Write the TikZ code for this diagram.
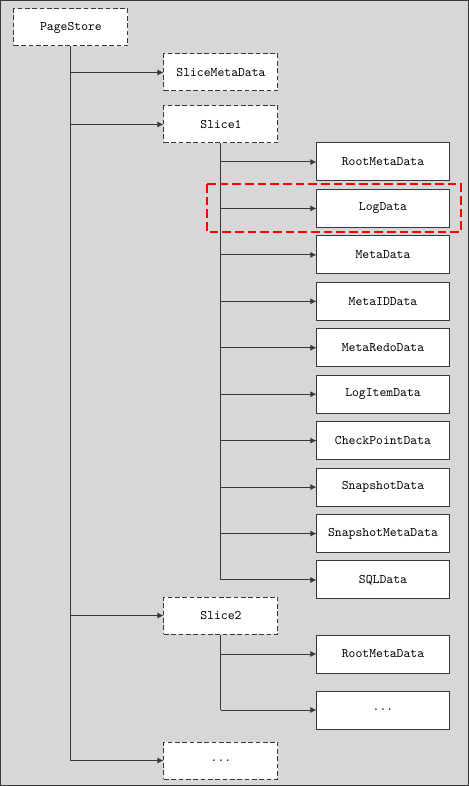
\documentclass[tikz,border=0pt]{standalone}
\usepackage{fontspec}
\usetikzlibrary{positioning, arrows.meta}

\begin{document}
\begin{tikzpicture}[x=0.75pt, y=-0.75pt, >={Latex[length=4.5pt, width=4.5pt]}]
    \definecolor{bgcolor}{HTML}{D7D7D7}
    \definecolor{markred}{HTML}{FF0000}
    \colorlet{linecolor}{black!78}
    \tikzset{
        dashbox/.style={draw=linecolor, fill=white, line width=0.75pt, dash pattern=on 3.5pt off 2pt,
            minimum width=85.5pt, minimum height=27.75pt, inner sep=0pt,
            font=\ttfamily\fontsize{9.8}{11}\selectfont},
        databox/.style={draw=linecolor, fill=white, line width=0.75pt,
            minimum width=99pt, minimum height=28.5pt, inner sep=0pt,
            font=\ttfamily\fontsize{9.8}{11}\selectfont},
        link/.style={->, draw=linecolor, line width=0.75pt}
    }

    % Background and frame
    \draw[fill=bgcolor, draw=linecolor, line width=1pt] (0.7,0.7) rectangle (468.3,785.3);

    % --- Top level ---
    \node[dashbox] (ps) at (71,27.5) {PageStore};
    \node[dashbox] (smd) at (221,72.5) {SliceMetaData};
    \node[dashbox] (s1) at (221,124.5) {Slice1};
    \node[dashbox] (s2) at (221,615.5) {Slice2};
    \node[dashbox] (sn) at (221,760.5) {...};

    \draw[linecolor, line width=0.75pt] (ps.south) -- (ps.south |- sn);
    \foreach \n in {smd, s1, s2, sn} {
        \draw[link] (ps.south |- \n) -- (\n.west);
    }

    % --- Slice1 ---
    \foreach \name [count=\i from 0] in {RootMetaData, LogData, MetaData, MetaIDData, MetaRedoData,
            LogItemData, CheckPointData, SnapshotData, SnapshotMetaData, SQLData} {
        \node[databox] (c\i) at (383, 162+46.44*\i) {\name};
        \draw[link] (s1.south |- c\i) -- (c\i.west);
    }
    \draw[linecolor, line width=0.75pt] (s1.south) -- (s1.south |- c9);

    % highlight
    \draw[draw=markred, line width=1pt, dash pattern=on 6.5pt off 3pt] (207,184) rectangle (461,232);

    % --- Slice2 ---
    \node[databox] (r2) at (383,654) {RootMetaData};
    \node[databox] (d2) at (383,710) {...};
    \draw[linecolor, line width=0.75pt] (s2.south) -- (s2.south |- d2);
    \foreach \n in {r2, d2} {
        \draw[link] (s2.south |- \n) -- (\n.west);
    }
\end{tikzpicture}
\end{document}
